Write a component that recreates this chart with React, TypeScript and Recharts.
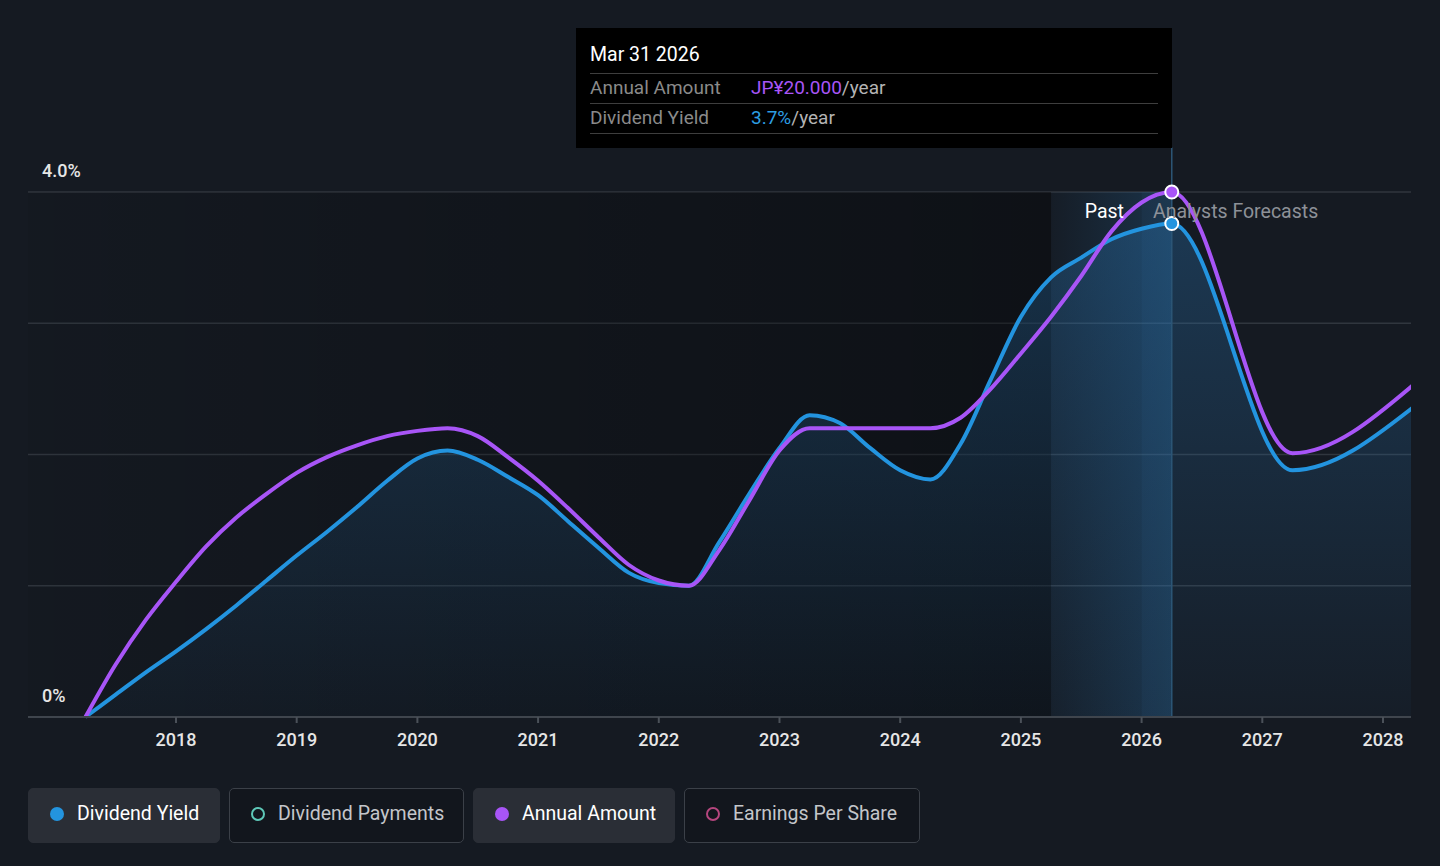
import React from "react";
import {
  ComposedChart,
  Area,
  Line,
  XAxis,
  YAxis,
  CartesianGrid,
  ReferenceArea,
  ReferenceLine,
} from "recharts";

// ---- data ----
const dates = [
  2017.25, 2017.5, 2017.75, 2018.0, 2018.25, 2018.5, 2018.75, 2019.0, 2019.25, 2019.5,
  2019.75, 2020.0, 2020.25, 2020.5, 2020.75, 2021.0, 2021.25, 2021.5, 2021.75, 2022.0,
  2022.25, 2022.5, 2022.75, 2023.0, 2023.25, 2023.5, 2023.75, 2024.0, 2024.25, 2024.5,
  2024.75, 2025.0, 2025.25, 2025.5, 2025.75, 2026.0, 2026.25, 2027.25, 2028.25,
];
const dividendYield = [
  0, 0.17, 0.34, 0.5, 0.67, 0.85, 1.04, 1.23, 1.41, 1.6,
  1.8, 1.97, 2.03, 1.96, 1.83, 1.69, 1.49, 1.29, 1.1, 1.02,
  1.0, 1.33, 1.7, 2.05, 2.3, 2.24, 2.05, 1.88, 1.81, 2.08,
  2.57, 3.05, 3.35, 3.5, 3.64, 3.72, 3.76, 1.88, 2.36,
];
const annualAmount = [
  0, 2.0, 3.7, 5.15, 6.5, 7.6, 8.5, 9.3, 9.9, 10.35,
  10.7, 10.9, 11.0, 10.7, 9.9, 9.0, 7.95, 6.85, 5.8, 5.2,
  5.0, 6.35, 8.25, 10.15, 11.0, 11.0, 11.0, 11.0, 11.0, 11.4,
  12.5, 13.85, 15.25, 16.8, 18.5, 19.6, 20.0, 10.05, 12.65,
];
const yearTicks = [2018, 2019, 2020, 2021, 2022, 2023, 2024, 2025, 2026, 2027, 2028];
const yieldTicks = [0, 1, 2, 3, 4];
const yieldTickLabels: Record<number, string> = { 0: "0%", 4: "4.0%" };
const hoverDate = 2026.25;
const pastStart = 2025.25;
const pastBandStart = 2026.0;
const xDomain = [2016.774, 2028.232];
const tooltipTitle = "Mar 31 2026";
const tooltipRows = [
  { label: "Annual Amount", value: "JP¥20.000", color: "#a855f7" },
  { label: "Dividend Yield", value: "3.7%", color: "#2d9ee3" },
];
const legendItems = [
  { label: "Dividend Yield", color: "#2394df", active: true, width: 192 },
  { label: "Dividend Payments", color: "#5ec8b8", active: false, width: 235 },
  { label: "Annual Amount", color: "#a855f7", active: true, width: 202 },
  { label: "Earnings Per Share", color: "#b5467e", active: false, width: 236 },
];

const data = dates.map((t, i) => ({ t, yld: dividendYield[i], amt: annualAmount[i] }));

const BLUE = "#2394df";
const PURPLE = "#a855f7";
const FONT = "Roboto, 'Noto Sans', sans-serif";

const makeDot = (color: string) => (props: any) => {
  const { cx, cy, payload, index } = props;
  if (!payload || payload.t !== hoverDate) return <g key={`dot-${index}`} />;
  return (
    <circle key={`dot-${index}`} cx={cx} cy={cy} r={6.5} fill={color} stroke="#ffffff" strokeWidth={2} />
  );
};

const renderYTick = (props: any) => {
  const { y, payload, index } = props;
  const label = yieldTickLabels[payload.value];
  if (!label) return <g key={`yt-${index}`} />;
  return (
    <text
      key={`yt-${index}`}
      x={42}
      y={y - 15}
      fill="#e6e6e6"
      fontSize={18}
      fontWeight={500}
      fontFamily={FONT}
      textAnchor="start"
    >
      {label}
    </text>
  );
};

export default function App() {
  return (
    <div
      style={{
        position: "absolute",
        left: 0,
        top: 0,
        width: 1440,
        height: 866,
        background: "#151a22",
        fontFamily: FONT,
        overflow: "hidden",
      }}
    >
      <ComposedChart
        width={1440}
        height={866}
        data={data}
        margin={{ top: 192, right: 29, bottom: 119, left: 27 }}
      >
        <defs>
          <linearGradient id="areaFill" x1="0" y1="0" x2="0" y2="1">
            <stop offset="0%" stopColor="#2a78b8" stopOpacity={0.32} />
            <stop offset="100%" stopColor="#2a78b8" stopOpacity={0.04} />
          </linearGradient>
          <linearGradient id="darkPast" x1="0" y1="0" x2="1" y2="0">
            <stop offset="0%" stopColor="#000000" stopOpacity={0.05} />
            <stop offset="100%" stopColor="#000000" stopOpacity={0.35} />
          </linearGradient>
          <linearGradient id="pastBlue" x1="0" y1="0" x2="1" y2="0">
            <stop offset="0%" stopColor="#2a7ab8" stopOpacity={0.03} />
            <stop offset="100%" stopColor="#2a7ab8" stopOpacity={0.26} />
          </linearGradient>
        </defs>
        <XAxis
          dataKey="t"
          type="number"
          domain={xDomain}
          allowDataOverflow
          ticks={yearTicks}
          tickFormatter={(v: number) => String(Math.round(v))}
          tick={{ fill: "#e6e6e6", fontSize: 18, fontWeight: 500, fontFamily: FONT }}
          tickSize={6}
          tickMargin={10}
          height={30}
          axisLine={{ stroke: "#3f454d", strokeWidth: 2 }}
          tickLine={{ stroke: "#4b5159", strokeWidth: 2 }}
        />
        <YAxis
          yAxisId="pct"
          type="number"
          domain={[0, 4]}
          ticks={yieldTicks}
          width={1}
          axisLine={false}
          tickLine={false}
          tick={renderYTick}
        />
        <YAxis yAxisId="amt" type="number" domain={[0, 20]} hide />
        <CartesianGrid yAxisId="pct" vertical={false} stroke="#30363e" strokeWidth={1.5} />
        <ReferenceArea
          yAxisId="pct"
          x1={xDomain[0]}
          x2={pastStart}
          y1={0}
          y2={4}
          fill="url(#darkPast)"
          fillOpacity={1}
          stroke="none"
          zIndex={-50}
        />
        <ReferenceArea
          yAxisId="pct"
          x1={pastStart}
          x2={hoverDate}
          y1={0}
          y2={4}
          fill="url(#pastBlue)"
          fillOpacity={1}
          stroke="none"
          zIndex={-50}
        />
        <ReferenceArea
          yAxisId="pct"
          x1={pastBandStart}
          x2={hoverDate}
          y1={0}
          y2={4}
          fill="#3f8cc8"
          fillOpacity={0.06}
          stroke="none"
          zIndex={-50}
        />
        <ReferenceLine
          yAxisId="pct"
          segment={[
            { x: hoverDate, y: 4.34 },
            { x: hoverDate, y: 0 },
          ]}
          stroke="#2c5676"
          strokeWidth={1.5}
          ifOverflow="visible"
        />
        <Area
          yAxisId="pct"
          type="monotone"
          dataKey="yld"
          stroke={BLUE}
          strokeWidth={4}
          fill="url(#areaFill)"
          fillOpacity={1}
          dot={makeDot(BLUE)}
          activeDot={false}
          isAnimationActive={false}
        />
        <Line
          yAxisId="amt"
          type="monotone"
          dataKey="amt"
          stroke={PURPLE}
          strokeWidth={4}
          dot={makeDot(PURPLE)}
          activeDot={false}
          isAnimationActive={false}
        />
      </ComposedChart>

      {/* Past / forecast labels */}
      <div
        style={{
          position: "absolute",
          right: 1440 - 1124,
          top: 201,
          color: "#ffffff",
          fontSize: 19.5,
          lineHeight: "22px",
        }}
      >
        Past
      </div>
      <div
        style={{
          position: "absolute",
          left: 1153,
          top: 201,
          color: "#8d9198",
          fontSize: 19.5,
          lineHeight: "22px",
        }}
      >
        Analysts Forecasts
      </div>

      {/* Tooltip */}
      <div
        style={{
          position: "absolute",
          left: 576,
          top: 28,
          width: 596,
          height: 120,
          background: "#000000",
          boxSizing: "border-box",
          padding: "0 14px",
        }}
      >
        <div style={{ color: "#ffffff", fontSize: 19.5, height: 45, lineHeight: "54px" }}>
          {tooltipTitle}
        </div>
        {tooltipRows.map((r) => (
          <div
            key={r.label}
            style={{
              borderTop: "1.5px solid #3e3e3e",
              height: 29,
              lineHeight: "27px",
              fontSize: 19,
              display: "flex",
            }}
          >
            <span style={{ color: "#8a8a8a", width: 161 }}>{r.label}</span>
            <span style={{ color: r.color }}>{r.value}</span>
            <span style={{ color: "#b4b4b4" }}>/year</span>
          </div>
        ))}
        <div style={{ borderTop: "1.5px solid #3e3e3e" }} />
      </div>

      {/* Legend */}
      <div style={{ position: "absolute", left: 28, top: 788, display: "flex", gap: 9 }}>
        {legendItems.map((it) => (
          <div
            key={it.label}
            style={{
              width: it.width,
              height: 55,
              boxSizing: "border-box",
              borderRadius: 5,
              background: it.active ? "#2a2e36" : "#12161d",
              border: it.active ? "1.5px solid #2a2e36" : "1.5px solid #3b4048",
              display: "flex",
              alignItems: "center",
              paddingLeft: 21,
              paddingBottom: 4,
              fontSize: 19.5,
              color: it.active ? "#ffffff" : "#c4c6ca",
            }}
          >
            <span
              style={{
                width: 14,
                height: 14,
                boxSizing: "border-box",
                borderRadius: "50%",
                background: it.active ? it.color : "transparent",
                border: it.active ? "none" : `2.5px solid ${it.color}`,
                marginRight: 13,
                flex: "none",
              }}
            />
            {it.label}
          </div>
        ))}
      </div>
    </div>
  );
}
